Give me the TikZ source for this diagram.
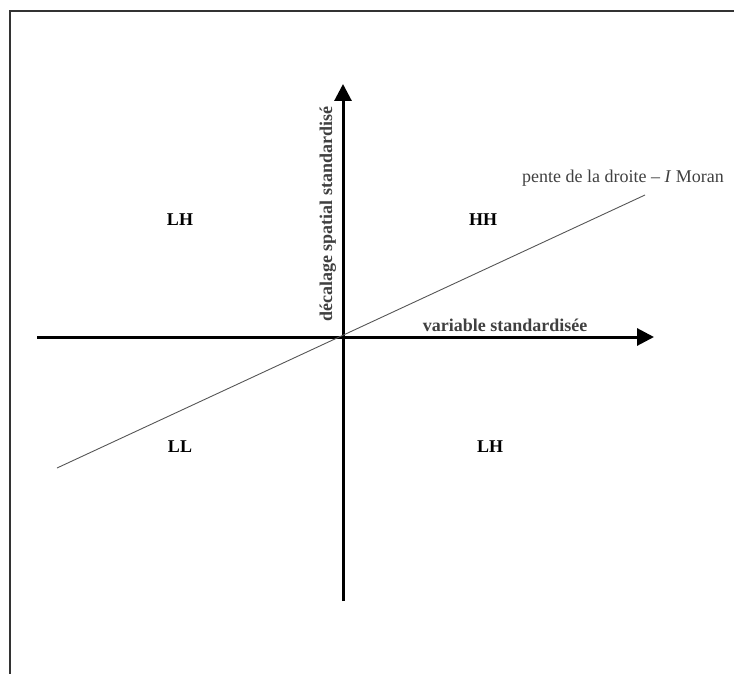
\documentclass[tikz,border=0pt]{standalone}
\usepackage{fontspec}
\setmainfont{Liberation Serif}
\usetikzlibrary{arrows.meta}
\definecolor{txtgrey}{HTML}{404040}
\definecolor{slopegrey}{HTML}{555555}
\begin{document}
\begin{tikzpicture}[x=1bp,y=-1bp,
  axis/.style={line width=3bp,black,-{Triangle[length=17bp,width=17bp]}},
  quadlabel/.style={font=\fontsize{18bp}{20bp}\selectfont\bfseries,text=black,inner sep=0pt},
  axislabel/.style={font=\fontsize{18bp}{20bp}\selectfont\bfseries,text=txtgrey,inner sep=0pt},
  slopelabel/.style={font=\fontsize{18bp}{20bp}\selectfont,text=txtgrey,inner sep=0pt},
  frame/.style={line width=1.5bp,black!80}]
\useasboundingbox (0,0) rectangle (734,674);
% frame
\coordinate (fbl) at (10,674);
\coordinate (ftl) at (10,11);
\coordinate (ftr) at (734,11);
\draw[frame] (fbl) -- (ftl) -- (ftr);
% axes
\coordinate (O) at (343,337);
\coordinate (xl) at (37,337);
\coordinate (xr) at (654,337);
\coordinate (yb) at (343,601);
\coordinate (yt) at (343,84);
\draw[axis] (xl) -- (xr);
\draw[axis] (yb) -- (yt);
% slope line
\coordinate (sl) at (57,468);
\coordinate (sr) at (645,195);
\draw[slopegrey,line width=0.9bp] (sl) -- (sr);
% labels
\node[quadlabel] (lh1) at (180,220) {LH};
\node[quadlabel] (hh) at (483,220) {HH};
\node[quadlabel] (ll) at (180,447) {LL};
\node[quadlabel] (lh2) at (490,447) {LH};
\node[axislabel,anchor=base] (xlab) at (505,331) {variable standardisée};
\node[axislabel,rotate=90,anchor=base] (ylab) at (332,214) {décalage spatial standardisé};
\node[slopelabel,anchor=base] (slab) at (623,182) {pente de la droite – \textit{I} Moran};
\end{tikzpicture}
\end{document}
